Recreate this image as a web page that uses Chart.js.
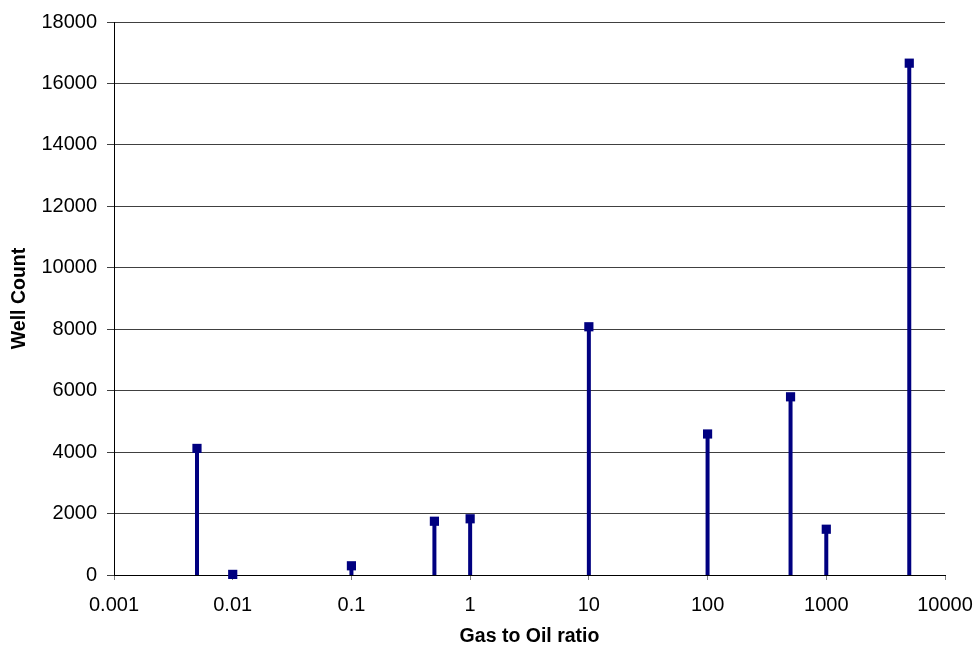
<!DOCTYPE html>
<html>
<head>
<meta charset="utf-8">
<script src="https://cdn.jsdelivr.net/npm/chart.js@4/dist/chart.umd.min.js"></script>
<style>
  html, body { margin: 0; padding: 0; background: #fff; }
  #wrap { width: 974px; height: 650px; position: relative; }
</style>
</head>
<body>
<div id="wrap"><canvas id="gor"></canvas></div>
<script>
  // Well count by gas to oil ratio - stem chart on a log x axis

  var gasOilRatio = [0.005, 0.01, 0.1, 0.5, 1, 10, 100, 500, 1000, 5000];
  var wellCount = [4120, 20, 300, 1750, 1830, 8080, 4590, 5800, 1490, 16660];
  var xTickValues = [0.001, 0.01, 0.1, 1, 10, 100, 1000, 10000];
  var xTickLabels = ['0.001', '0.01', '0.1', '1', '10', '100', '1000', '10000'];

  var NAVY = '#000080';
  var FONT = "Arial, 'Liberation Sans', sans-serif";

  // vertical stems from zero up to each marker
  var stemPlugin = {
    id: 'stems',
    beforeDatasetsDraw: function (chart) {
      var ctx = chart.ctx;
      var y0 = chart.scales.y.getPixelForValue(0);
      ctx.save();
      ctx.strokeStyle = NAVY;
      ctx.lineWidth = 4;
      chart.getDatasetMeta(0).data.forEach(function (pt) {
        ctx.beginPath();
        ctx.moveTo(pt.x, y0);
        ctx.lineTo(pt.x, pt.y);
        ctx.stroke();
      });
      ctx.restore();
    }
  };

  var points = gasOilRatio.map(function (r, i) { return { x: r, y: wellCount[i] }; });

  new Chart(document.getElementById('gor').getContext('2d'), {
    type: 'scatter',
    data: {
      datasets: [{
        data: points,
        showLine: false,
        pointStyle: 'rect',
        pointRadius: 6.5, pointHoverRadius: 6.5,
        pointBackgroundColor: NAVY, pointBorderColor: NAVY, pointBorderWidth: 0,
        clip: false
      }]
    },
    options: {
      responsive: true, maintainAspectRatio: false, animation: false,
      layout: { padding: { left: 0, right: 29, top: 20, bottom: 0 } },
      plugins: { legend: { display: false }, tooltip: { enabled: false } },
      scales: {
        x: {
          type: 'logarithmic', min: 0.001, max: 10000,
          afterBuildTicks: function (scale) {
            scale.ticks = xTickValues.map(function (v) { return { value: v, major: true }; });
          },
          afterFit: function (scale) {
            scale.height = 75;
            scale.paddingLeft = 0;
            scale.paddingRight = 0;
          },
          border: { display: true, color: '#000', width: 1 },
          grid: { drawOnChartArea: false, drawTicks: true, tickLength: 5, color: '#808080' },
          ticks: {
            autoSkip: false, maxRotation: 0, padding: 13, color: '#000',
            font: { family: FONT, size: 20 },
            callback: function (v, i) { return xTickLabels[i]; }
          },
          title: {
            display: true, text: 'Gas to Oil ratio', color: '#000',
            font: { family: FONT, size: 19.5, weight: 'bold' },
            padding: { top: 0, bottom: 2 }
          }
        },
        y: {
          min: 0, max: 18000,
          afterFit: function (scale) { scale.width = 114; },
          border: { display: true, color: '#000', width: 1 },
          grid: { color: '#404040', lineWidth: 1, drawTicks: true, tickLength: 7 },
          ticks: {
            stepSize: 2000, padding: 10, color: '#000',
            font: { family: FONT, size: 20 },
            callback: function (v) { return String(v); }
          },
          title: {
            display: true, text: 'Well Count', color: '#000',
            font: { family: FONT, size: 19.5, weight: 'bold' },
            padding: { top: 8, bottom: 0 }
          }
        }
      }
    },
    plugins: [stemPlugin]
  });
</script>
</body>
</html>
